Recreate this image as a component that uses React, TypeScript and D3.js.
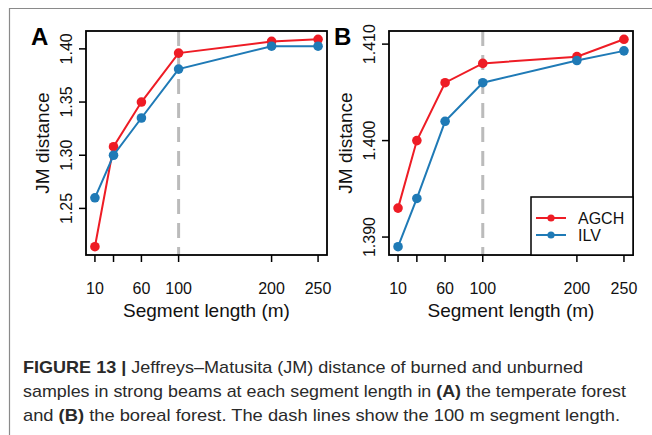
import React from 'react';
import * as d3 from 'd3';

// segment lengths (m)
const segLengths = [10, 30, 60, 100, 200, 250];
const xTickLabels = ['10', '', '60', '100', '200', '250'];

// panel A - temperate forest
const agchA = [1.214, 1.308, 1.350, 1.396, 1.407, 1.409];
const ilvA = [1.260, 1.300, 1.335, 1.381, 1.4025, 1.4025];
const yTicksA = [1.25, 1.30, 1.35, 1.40];

// panel B - boreal forest
const agchB = [1.393, 1.400, 1.406, 1.408, 1.4087, 1.4105];
const ilvB = [1.389, 1.394, 1.402, 1.406, 1.4083, 1.4093];
const yTicksB = [1.390, 1.400, 1.410];

const seriesNames = ['AGCH', 'ILV'];
const RED = '#ee1c25';
const BLUE = '#1f7ab6';
const FONT = 'Liberation Sans, Arial, Helvetica, sans-serif';

// R style 4% padding
function pad(ext) {
  const d = (ext[1] - ext[0]) * 0.04;
  return [ext[0] - d, ext[1] + d];
}

function Panel({ left, right, letter, agch, ilv, yTicks, yFmt, legend }) {
  const top = 31, bottom = 255;
  const x = d3.scaleLinear().domain(pad(d3.extent(segLengths))).range([left, right]);
  const y = d3.scaleLinear().domain(pad(d3.extent(agch.concat(ilv)))).range([bottom, top]);
  const line = d3.line().x((d, i) => x(segLengths[i])).y(d => y(d));
  const cx = (left + right) / 2;
  const cy = (top + bottom) / 2;

  const series = [
    { name: seriesNames[0], values: agch, color: RED },
    { name: seriesNames[1], values: ilv, color: BLUE },
  ];

  return (
    <g fontFamily={FONT}>
      {/* dashed reference at 100 m */}
      <line x1={x(100)} x2={x(100)} y1={top} y2={bottom}
        stroke="#bbbbbb" strokeWidth={3} strokeDasharray="15,9" />
      {series.map(s => (
        <g key={s.name}>
          <path d={line(s.values)} fill="none" stroke={s.color} strokeWidth={2} />
          {s.values.map((v, i) => (
            <circle key={i} cx={x(segLengths[i])} cy={y(v)} r={4.8} fill={s.color} />
          ))}
        </g>
      ))}
      <rect x={left} y={top} width={right - left} height={bottom - top}
        fill="none" stroke="#000" strokeWidth={1.8} />
      {/* x axis ticks */}
      {segLengths.map((v, i) => (
        <g key={v}>
          <line x1={x(v)} x2={x(v)} y1={bottom} y2={bottom + 7} stroke="#000" strokeWidth={1.5} />
          <text x={x(v)} y={294} fontSize={16} textAnchor="middle" fill="#111">{xTickLabels[i]}</text>
        </g>
      ))}
      <text x={cx} y={317} fontSize={19} textAnchor="middle" fill="#111">Segment length (m)</text>
      {/* y axis ticks */}
      {yTicks.map(t => (
        <g key={t}>
          <line x1={left - 7} x2={left} y1={y(t)} y2={y(t)} stroke="#000" strokeWidth={1.5} />
          <text transform={`translate(${left - 14},${y(t)}) rotate(-90)`} fontSize={16}
            textAnchor="middle" fill="#111">{yFmt(t)}</text>
        </g>
      ))}
      <text transform={`translate(${left - 37},${cy}) rotate(-90)`} fontSize={19}
        textAnchor="middle" fill="#111">JM distance</text>
      <text x={left - 55} y={45} fontSize={24} fontWeight="bold" fill="#000">{letter}</text>
      {legend && (
        <g>
          <rect x={531} y={197} width={right - 531} height={bottom - 197}
            fill="#fff" stroke="#000" strokeWidth={1.5} />
          {series.map((s, i) => (
            <g key={s.name} transform={`translate(0,${218 + i * 17})`}>
              <line x1={536} x2={566} y1={0} y2={0} stroke={s.color} strokeWidth={2} />
              <circle cx={551} cy={0} r={3.6} fill={s.color} />
              <text x={578} y={6} fontSize={16} fill="#111">{s.name}</text>
            </g>
          ))}
        </g>
      )}
    </g>
  );
}

export default function App() {
  const capFont = 'Liberation Sans Narrow, Arial Narrow, Liberation Sans, Arial, sans-serif';
  return (
    <svg width={652} height={435} style={{ position: 'absolute', left: 0, top: 0, background: '#fff' }}>
      <rect x={0} y={0} width={652} height={435} fill="#fff" />
      <path d="M9.5,435 V8.5 H652" fill="none" stroke="#8a8a8a" strokeWidth={1.2} />
      <Panel left={86} right={327} letter="A" agch={agchA} ilv={ilvA}
        yTicks={yTicksA} yFmt={d3.format('.2f')} legend={false} />
      <Panel left={389} right={633} letter="B" agch={agchB} ilv={ilvB}
        yTicks={yTicksB} yFmt={d3.format('.3f')} legend={true} />
      <g fontFamily={capFont} fontSize={17} fill="#2a2a2a">
        <text x={23} y={373} textLength={560} lengthAdjust="spacingAndGlyphs">
          <tspan fontWeight="bold">FIGURE 13 | </tspan>Jeffreys–Matusita (JM) distance of burned and unburned
        </text>
        <text x={23} y={397} textLength={603} lengthAdjust="spacingAndGlyphs">
          samples in strong beams at each segment length in <tspan fontWeight="bold">(A)</tspan> the temperate forest
        </text>
        <text x={23} y={421} textLength={597} lengthAdjust="spacingAndGlyphs">
          and <tspan fontWeight="bold">(B)</tspan> the boreal forest. The dash lines show the 100 m segment length.
        </text>
      </g>
    </svg>
  );
}
